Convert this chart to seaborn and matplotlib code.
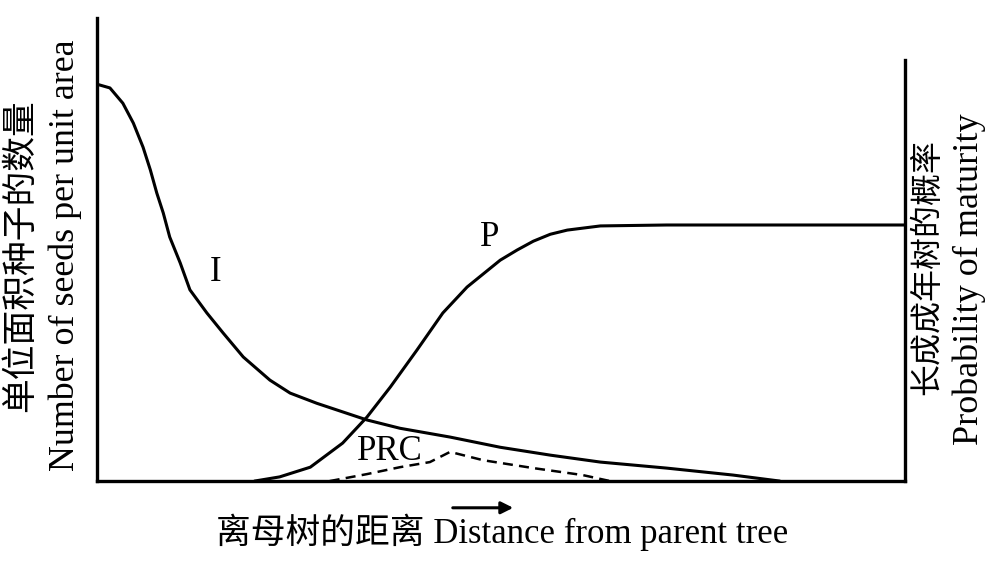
"""Janzen-Connell style plot: seed density, survival probability and recruitment."""

import matplotlib

matplotlib.use("Agg")

import matplotlib.pyplot as plt
import pandas as pd
import seaborn as sns

# distance from the parent tree (arbitrary units) and curve heights (0-1 of axis)
i_distance = [0.0, 0.16, 0.32, 0.45, 0.57, 0.66, 0.74, 0.82, 0.90, 1.03, 1.15, 1.36,
              1.56, 1.81, 2.14, 2.39, 2.72, 3.34, 3.75, 4.37, 4.99, 5.61, 6.23, 7.05,
              7.87, 8.45]
i_seeds = [0.857, 0.849, 0.816, 0.773, 0.721, 0.672, 0.622, 0.579, 0.527, 0.471, 0.413,
           0.363, 0.320, 0.268, 0.218, 0.190, 0.168, 0.132, 0.114, 0.095, 0.073, 0.056,
           0.041, 0.028, 0.013, 0.0]

p_distance = [1.95, 2.26, 2.64, 3.04, 3.34, 3.63, 3.96, 4.28, 4.58, 4.99, 5.20, 5.40,
              5.61, 5.82, 6.23, 7.05, 10.0]
p_maturity = [0.0, 0.009, 0.030, 0.082, 0.138, 0.203, 0.283, 0.363, 0.419, 0.477, 0.499,
              0.518, 0.533, 0.542, 0.551, 0.553, 0.553]

prc_distance = [2.88, 3.34, 3.75, 4.12, 4.37, 4.78, 5.40, 6.01, 6.35]
prc_recruit = [0.0, 0.015, 0.030, 0.041, 0.063, 0.045, 0.028, 0.013, 0.0]

FONT = ["Liberation Serif", "Noto Sans CJK SC"]


def main() -> None:
    sns.set_style("white")
    plt.rcParams["font.family"] = FONT
    plt.rcParams["text.color"] = "black"

    fig = plt.figure(figsize=(10, 5.81), dpi=100)
    ax = fig.add_axes([0.097, 0.172, 0.808, 0.797])

    df_i = pd.DataFrame({"distance": i_distance, "value": i_seeds})
    df_p = pd.DataFrame({"distance": p_distance, "value": p_maturity})
    df_prc = pd.DataFrame({"distance": prc_distance, "value": prc_recruit})

    sns.lineplot(data=df_i, x="distance", y="value", ax=ax, color="black", linewidth=2.2)
    sns.lineplot(data=df_p, x="distance", y="value", ax=ax, color="black", linewidth=2.2)
    sns.lineplot(data=df_prc, x="distance", y="value", ax=ax, color="black",
                 linewidth=1.8, linestyle=(0, (4, 2.5)))

    ax.set_xlim(0, 10)
    ax.set_ylim(0, 1)
    ax.set_xticks([])
    ax.set_yticks([])
    ax.set_xlabel("")
    ax.set_ylabel("")
    ax.spines["top"].set_visible(False)
    for side in ("left", "right", "bottom"):
        ax.spines[side].set_color("black")
        ax.spines[side].set_linewidth(2.4)
    ax.spines["right"].set_bounds(0, 0.909)

    ax.text(1.47, 0.45, "I", fontsize=25, ha="center", va="center")
    ax.text(4.86, 0.526, "P", fontsize=25, ha="center", va="center")
    ax.text(3.62, 0.064, "PRC", fontsize=25, ha="center", va="center")

    fig.text(0.022, 0.56, "单位面积种子的数量", rotation=90, fontsize=25,
             ha="center", va="center")
    fig.text(0.065, 0.56, "Number of seeds per unit area", rotation=90, fontsize=25.8,
             ha="center", va="center")
    fig.text(0.928, 0.54, "长成成年树的概率", rotation=90, fontsize=23,
             ha="center", va="center")
    fig.text(0.969, 0.52, "Probability of maturity", rotation=90, fontsize=26,
             ha="center", va="center")
    fig.text(0.502, 0.083, "离母树的距离 Distance from parent tree", fontsize=25,
             ha="center", va="center")

    ax.annotate("", xy=(0.516, 0.126), xytext=(0.45, 0.126),
                xycoords="figure fraction", textcoords="figure fraction",
                arrowprops=dict(arrowstyle="-|>", color="black", lw=2.2,
                                mutation_scale=18))

    fig.savefig("out.png", dpi=100)
    plt.close(fig)


if __name__ == "__main__":
    main()
